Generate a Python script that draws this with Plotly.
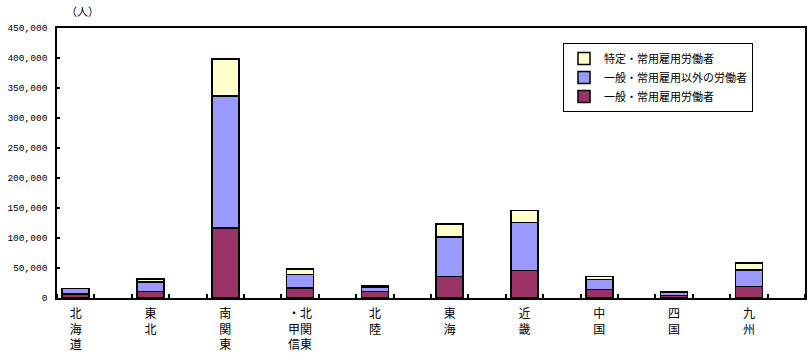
import plotly.graph_objects as go

categories = ["北海道", "東北", "南関東", "北関東・甲信", "北陸", "東海", "近畿", "中国", "四国", "九州"]
tick_labels = ["北\n海\n道", "東\n北", "南\n関\n東", "・北\n甲関\n信東", "北\n陸", "東\n海", "近\n畿", "中\n国", "四\n国", "九\n州"]
general_regular = [7000, 11000, 117000, 17000, 10500, 36000, 46000, 14000, 4000, 19000]
general_other = [8500, 16000, 220000, 22000, 8000, 66000, 79500, 16500, 5000, 28000]
specific_regular = [500, 4500, 61000, 9000, 2500, 21000, 20500, 5500, 2000, 11000]
series_names = ["一般・常用雇用労働者", "一般・常用雇用以外の労働者", "特定・常用雇用労働者"]
colors = ["#993366", "#9999FF", "#FFFFCC"]
y_ticks = [0, 50000, 100000, 150000, 200000, 250000, 300000, 350000, 400000, 450000]

# each region occupies every other slot on the axis (empty slot between regions)
positions = [2 * i for i in range(len(categories))]

fig = go.Figure()
for name, vals, col in zip(series_names, [general_regular, general_other, specific_regular], colors):
    fig.add_trace(go.Bar(
        x=positions, y=vals, name=name, width=0.72,
        customdata=categories,
        hovertemplate="%{customdata}: %{y:,}<extra>" + name + "</extra>",
        marker=dict(color=col, line=dict(color="black", width=1.5)),
    ))

font_jp = "Noto Sans CJK JP"
fig.update_layout(
    barmode="stack",
    width=810, height=353,
    margin=dict(l=57, r=5, t=28, b=55, autoexpand=False),
    plot_bgcolor="white", paper_bgcolor="white",
    font=dict(family=font_jp, color="black", size=11),
    showlegend=True,
    legend=dict(
        traceorder="reversed",
        x=(563 - 57) / 748, y=(298 - 43) / 270, xanchor="left", yanchor="top",
        bordercolor="black", borderwidth=1, bgcolor="white",
        font=dict(size=11, family=font_jp),
        itemwidth=30, tracegroupgap=0,
    ),
    annotations=[dict(text="（人）", xref="paper", yref="paper",
                      x=(82 - 57) / 748, y=1 + (28 - 11) / 270,
                      xanchor="center", yanchor="middle",
                      showarrow=False, font=dict(size=11, family=font_jp))],
)

fig.update_xaxes(
    automargin=False,
    range=[-0.5, 2 * len(categories) - 0.5],
    tickmode="array", tickvals=positions,
    ticktext=[t.replace("\n", "<br>") for t in tick_labels],
    ticks="", ticklabelstandoff=4,
    minor=dict(ticks="inside", ticklen=4, tickcolor="black", tickwidth=1.5,
               tick0=0.5, dtick=1, showgrid=False),
    showline=True, linecolor="black", linewidth=1.5, mirror=True,
    showgrid=False, zeroline=False, tickfont=dict(size=12, family=font_jp),
)
fig.update_yaxes(
    automargin=False,
    range=[0, 450000], tickmode="array", tickvals=y_ticks,
    ticktext=[f"{v:,}" for v in y_ticks],
    ticks="inside", ticklen=3, tickcolor="black", tickwidth=1.5,
    ticklabelstandoff=6,
    showline=True, linecolor="black", linewidth=1.5, mirror=True,
    showgrid=False, zeroline=False,
    tickfont=dict(size=9.5, family="Liberation Mono"),
)

fig.write_html("out.html")
